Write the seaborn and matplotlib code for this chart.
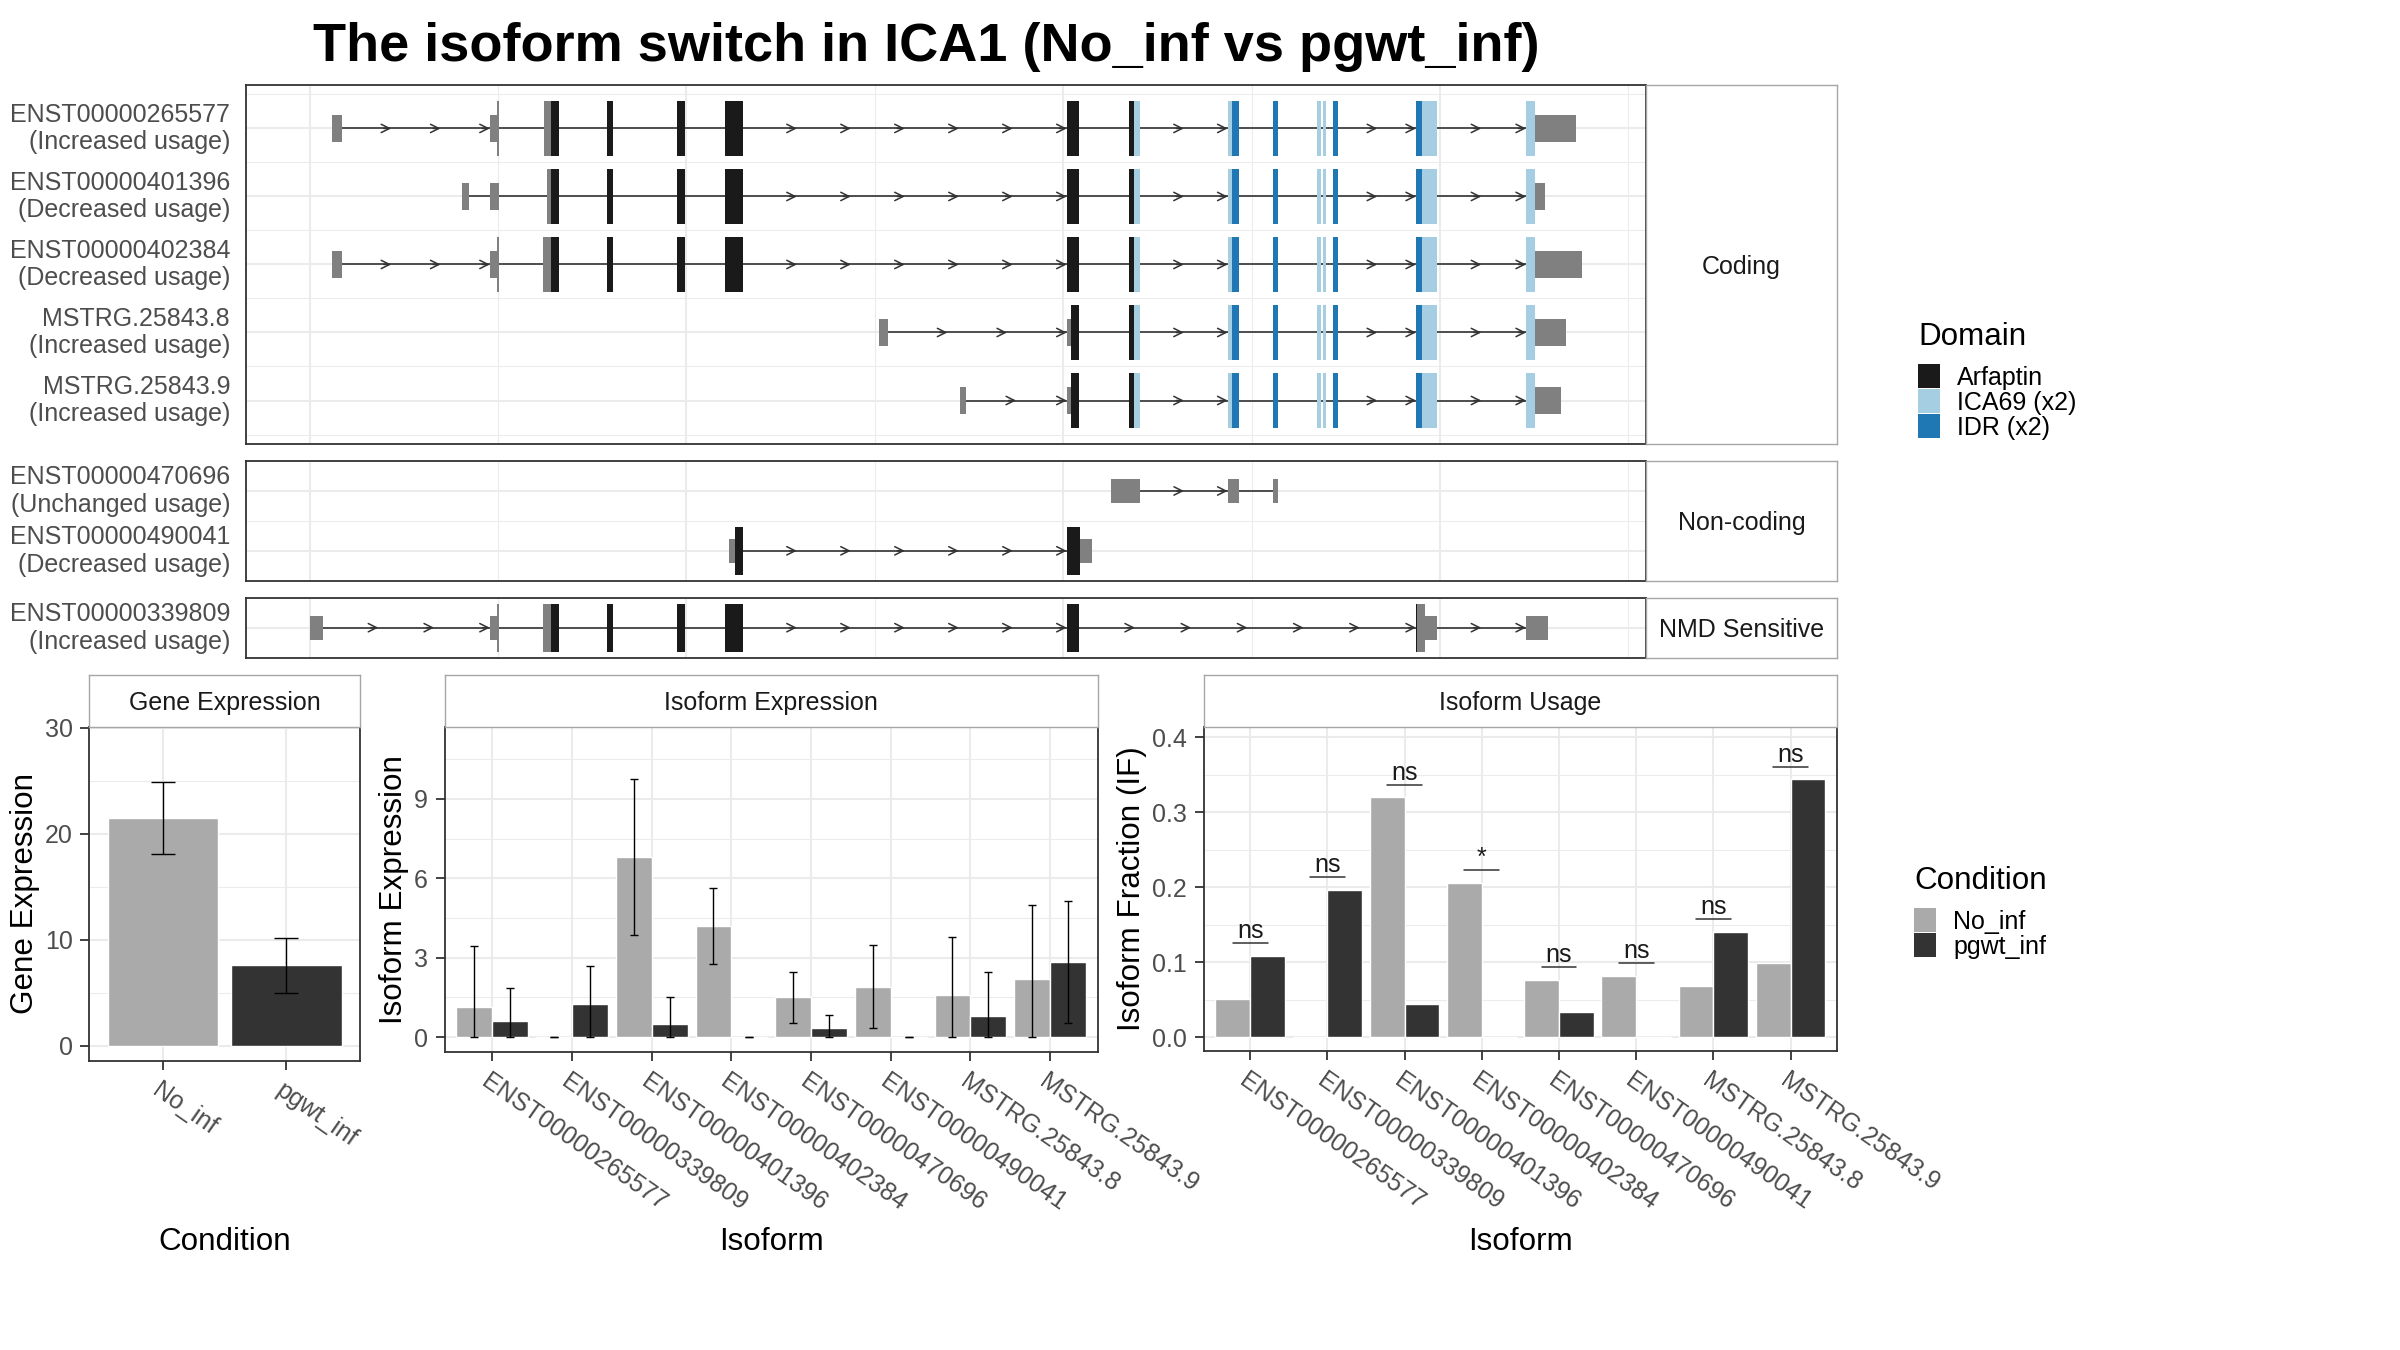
#################### IMPORTS ####################
import numpy as np
import pandas as pd
import matplotlib
matplotlib.use("Agg")
import matplotlib.pyplot as plt
import seaborn as sns
from matplotlib.patches import Rectangle
from matplotlib.transforms import ScaledTranslation

#################### DATA ####################
conditions = ["No_inf", "pgwt_inf"]
isoforms = ["ENST00000265577", "ENST00000339809", "ENST00000401396", "ENST00000402384",
            "ENST00000470696", "ENST00000490041", "MSTRG.25843.8", "MSTRG.25843.9"]

# gene expression: mean and error bar ends
gene_expr = [21.5, 7.6]
gene_low = [18.1, 5.0]
gene_high = [24.9, 10.2]

# isoform expression per condition
iso_expr_no = [1.15, 0.0, 6.8, 4.2, 1.5, 1.9, 1.6, 2.2]
iso_low_no = [0.0, 0.0, 3.85, 2.75, 0.55, 0.35, 0.0, 0.0]
iso_high_no = [3.45, 0.0, 9.75, 5.65, 2.45, 3.5, 3.8, 5.0]
iso_expr_pg = [0.6, 1.25, 0.5, 0.0, 0.35, 0.0, 0.8, 2.85]
iso_low_pg = [0.0, 0.0, 0.0, 0.0, 0.0, 0.0, 0.0, 0.55]
iso_high_pg = [1.85, 2.7, 1.5, 0.0, 0.85, 0.0, 2.45, 5.15]

# isoform usage (IF) and significance
if_no = [0.051, 0.0, 0.320, 0.206, 0.077, 0.082, 0.069, 0.099]
if_pg = [0.109, 0.197, 0.045, 0.0, 0.034, 0.0, 0.141, 0.344]
if_sig = ["ns", "ns", "ns", "*", "ns", "ns", "ns", "ns"]

# transcript structures: exons as lists of (start, end, feature), positions in kb (relative)
arf_core = [[(15.77, 16.09, "Arfaptin")], [(19.49, 19.91, "Arfaptin")], [(22.05, 23.00, "Arfaptin")]]
domain_tail = [
    [(43.47, 43.78, "Arfaptin"), (43.78, 44.08, "ICA69 (x2)")],
    [(48.73, 48.98, "ICA69 (x2)"), (48.98, 49.32, "IDR (x2)")],
    [(51.12, 51.42, "IDR (x2)")],
    [(53.50, 53.70, "ICA69 (x2)")],
    [(53.78, 53.97, "ICA69 (x2)")],
    [(54.33, 54.61, "IDR (x2)")],
    [(58.73, 59.04, "IDR (x2)"), (59.04, 59.82, "ICA69 (x2)")],
]
tx_265577 = ([[(1.18, 1.72, "utr")], [(9.57, 9.93, "utr"), (9.93, 10.07, "cds")],
              [(12.43, 12.80, "cds"), (12.80, 13.23, "Arfaptin")]] + arf_core
             + [[(40.19, 40.83, "Arfaptin")]] + domain_tail
             + [[(64.57, 65.06, "ICA69 (x2)"), (65.06, 67.22, "utr")]])
tx_401396 = ([[(8.08, 8.45, "utr")], [(9.57, 10.08, "utr")],
              [(12.59, 12.80, "cds"), (12.80, 13.23, "Arfaptin")]] + arf_core
             + [[(40.19, 40.83, "Arfaptin")]] + domain_tail
             + [[(64.57, 65.06, "ICA69 (x2)"), (65.06, 65.57, "utr")]])
tx_402384 = ([[(1.18, 1.72, "utr")], [(9.57, 9.93, "utr"), (9.93, 10.07, "cds")],
              [(12.38, 12.80, "cds"), (12.80, 13.23, "Arfaptin")]] + arf_core
             + [[(40.19, 40.83, "Arfaptin")]] + domain_tail
             + [[(64.57, 65.06, "ICA69 (x2)"), (65.06, 67.54, "utr")]])
tx_mstrg8 = ([[(30.22, 30.69, "utr")], [(40.19, 40.42, "utr"), (40.42, 40.83, "Arfaptin")]]
             + domain_tail + [[(64.57, 65.06, "ICA69 (x2)"), (65.06, 66.69, "utr")]])
tx_mstrg9 = ([[(34.55, 34.82, "utr")], [(40.19, 40.42, "utr"), (40.42, 40.83, "Arfaptin")]]
             + domain_tail + [[(64.57, 65.06, "ICA69 (x2)"), (65.06, 66.42, "utr")]])
tx_470696 = [[(42.52, 44.10, "utr")], [(48.73, 49.32, "utr")], [(51.12, 51.42, "utr")]]
tx_490041 = [[(22.25, 22.59, "utr"), (22.59, 23.00, "Arfaptin")],
             [(40.19, 40.89, "Arfaptin"), (40.89, 41.55, "utr")]]
tx_339809 = ([[(0.02, 0.69, "utr")], [(9.57, 9.93, "utr"), (9.93, 10.07, "cds")],
              [(12.38, 12.80, "cds"), (12.80, 13.23, "Arfaptin")]] + arf_core
             + [[(40.19, 40.83, "Arfaptin")],
                [(58.73, 58.80, "Arfaptin"), (58.80, 59.20, "cds"), (59.20, 59.82, "utr")],
                [(64.57, 65.72, "utr")]])

coding_names = ["ENST00000265577", "ENST00000401396", "ENST00000402384", "MSTRG.25843.8", "MSTRG.25843.9"]
coding_usage = ["Increased usage", "Decreased usage", "Decreased usage", "Increased usage", "Increased usage"]
coding_structs = [tx_265577, tx_401396, tx_402384, tx_mstrg8, tx_mstrg9]
noncoding_names = ["ENST00000470696", "ENST00000490041"]
noncoding_usage = ["Unchanged usage", "Decreased usage"]
noncoding_structs = [tx_470696, tx_490041]
nmd_names = ["ENST00000339809"]
nmd_usage = ["Increased usage"]
nmd_structs = [tx_339809]

domain_names = ["Arfaptin", "ICA69 (x2)", "IDR (x2)"]

#################### STYLE ####################
sns.set_theme(style="white")
plt.rcParams["font.family"] = ["Liberation Sans", "DejaVu Sans"]

GRID = "#EBEBEB"
FRAME = "#333333"
STRIP_EDGE = "#A6A6A6"
TICK_TXT = "#4D4D4D"
INTRON = "#333333"
cond_colors = {"No_inf": "#AAAAAA", "pgwt_inf": "#333333"}
feature_colors = {"utr": "#808080", "cds": "#808080", "Arfaptin": "#1A1A1A",
                  "ICA69 (x2)": "#A6CEE3", "IDR (x2)": "#1F78B4"}

W, H = 2400, 1350
fig = plt.figure(figsize=(W / 100, H / 100), dpi=100)


def px_box(left, top, right, bottom):
    return [left / W, 1 - bottom / H, (right - left) / W, (bottom - top) / H]


def add_strip(left, top, right, bottom, label):
    sax = fig.add_axes(px_box(left, top, right, bottom))
    sax.set_xticks([])
    sax.set_yticks([])
    sax.set_facecolor("white")
    for sp in sax.spines.values():
        sp.set_visible(True)
        sp.set_color(STRIP_EDGE)
        sp.set_linewidth(1.0)
    sax.text(0.5, 0.5, label, transform=sax.transAxes, ha="center", va="center_baseline",
             fontsize=18, color="#1A1A1A")
    return sax


def frame(ax):
    for sp in ax.spines.values():
        sp.set_visible(True)
        sp.set_color(FRAME)
        sp.set_linewidth(1.3)


def half_height(feat):
    return 0.2 if feat == "utr" else 0.4


def draw_structure(ax, exons, row):
    # introns with direction arrows
    for prev, nxt in zip(exons[:-1], exons[1:]):
        x0, x1 = prev[-1][1], nxt[0][0]
        ax.plot([x0, x1], [row, row], color=INTRON, lw=1.2, solid_capstyle="butt", zorder=2)
        span = x1 - x0
        if span > 3.8:
            n_arrows = int(np.ceil(span / 3.3))
            for k in range(1, n_arrows + 1):
                tip = x0 + span * k / n_arrows
                ax.annotate("", xy=(tip, row), xytext=(tip - 0.4, row), zorder=2,
                            arrowprops=dict(arrowstyle="->,head_length=0.3,head_width=0.15",
                                            color=INTRON, lw=1.1, shrinkA=0, shrinkB=0,
                                            mutation_scale=20))
    # exons, coloured by feature
    for exon in exons:
        for start, end, feat in exon:
            h = half_height(feat)
            ax.bar(start, 2 * h, width=end - start, bottom=row - h, align="edge",
                   color=feature_colors[feat], linewidth=0, zorder=3)


#################### TRANSCRIPT PANELS ####################
tx_panels = [("Coding", coding_names, coding_usage, coding_structs),
             ("Non-coding", noncoding_names, noncoding_usage, noncoding_structs),
             ("NMD Sensitive", nmd_names, nmd_usage, nmd_structs)]

all_segments = [seg for _, _, _, structs in tx_panels for st in structs for ex in st for seg in ex]
xmin = min(s[0] for s in all_segments)
xmax = max(s[1] for s in all_segments)
xpad = 0.05 * (xmax - xmin)

ylims = []
for _, names, _, structs in tx_panels:
    lo = min(r + 1 - half_height(f) for r, st in enumerate(structs) for ex in st for (_, _, f) in ex)
    hi = max(r + 1 + half_height(f) for r, st in enumerate(structs) for ex in st for (_, _, f) in ex)
    pad = 0.05 * (hi - lo)
    ylims.append((lo - pad, hi + pad))

TX_L, TX_R, STRIP_R = 246.3, 1645.6, 1837.3
TX_TOP, TX_BOT, GAP = 84.9, 657.6, 17.0
unit = (TX_BOT - TX_TOP - GAP * (len(tx_panels) - 1)) / sum(hi - lo for lo, hi in ylims)

top = TX_TOP
for (label, names, usage, structs), (lo, hi) in zip(tx_panels, ylims):
    bottom = top + (hi - lo) * unit
    ax = fig.add_axes(px_box(TX_L, top, TX_R, bottom))
    for r, st in enumerate(structs):
        draw_structure(ax, st, r + 1)
    ax.set_xlim(xmin - xpad, xmax + xpad)
    ax.set_ylim(hi, lo)
    ax.set_xticks([0, 20, 40, 60])
    ax.set_xticks([10, 30, 50, 70], minor=True)
    rows = np.arange(1, len(names) + 1)
    ax.set_yticks(rows, labels=[f"{n}\n({u})" for n, u in zip(names, usage)])
    ax.set_yticks(np.arange(0.5, len(names) + 1, 1.0), minor=True)
    ax.grid(True, which="major", color=GRID, lw=1.45)
    ax.grid(True, which="minor", color=GRID, lw=0.75)
    ax.set_axisbelow(True)
    ax.tick_params(axis="x", which="both", length=0, labelbottom=False)
    ax.tick_params(axis="y", which="both", length=0, pad=11.7, labelsize=18, labelcolor=TICK_TXT)
    plt.setp(ax.get_yticklabels(), linespacing=1.2, va="center", ha="right")
    frame(ax)
    add_strip(TX_R, top, STRIP_R, bottom, label)
    top = bottom + GAP

#################### BAR PANELS ####################
STRIP_TOP, PANEL_TOP = 674.6, 726.7
LABEL_BASE = 1250


def style_bars(ax, box, yticks, yminor, ylim, ncat, ylab, ylab_x, xlab, fmt=None):
    left, right, bottom = box
    ax.set_xlim(-0.6, ncat - 0.4)
    ax.set_ylim(*ylim)
    ax.set_yticks(yticks)
    if fmt:
        ax.set_yticklabels([fmt.format(t) for t in yticks])
    ax.set_yticks(yminor, minor=True)
    ax.grid(True, which="major", color=GRID, lw=1.45)
    ax.grid(True, axis="y", which="minor", color=GRID, lw=0.75)
    ax.set_axisbelow(True)
    frame(ax)
    ax.tick_params(which="major", bottom=True, left=True, length=6.7, width=1.3, color=FRAME,
                   labelsize=18, labelcolor=TICK_TXT)
    ax.tick_params(axis="y", which="major", pad=5.3)
    ax.tick_params(axis="x", which="major", pad=6.0)
    ax.tick_params(which="minor", length=0)
    for lab in ax.get_xticklabels():
        lab.set_rotation(-35)
        lab.set_ha("left")
        lab.set_va("top")
        lab.set_rotation_mode("anchor")
        lab.set_transform(lab.get_transform() + ScaledTranslation(-0.01, 0, fig.dpi_scale_trans))
    h = bottom - PANEL_TOP
    w = right - left
    ax.set_xlabel(xlab, fontsize=22.6, color="black", va="baseline")
    ax.xaxis.set_label_coords(0.5, (bottom - LABEL_BASE) / h)
    ax.set_ylabel(ylab, fontsize=22.6, color="black", va="baseline")
    ax.yaxis.set_label_coords((ylab_x - left) / w, 0.5)


# Gene expression
GE = (89.3, 360.0, 1060.8)
ax_ge = fig.add_axes(px_box(GE[0], PANEL_TOP, GE[1], GE[2]))
ge_df = pd.DataFrame({"Condition": conditions, "Gene Expression": gene_expr})
sns.barplot(data=ge_df, x="Condition", y="Gene Expression", hue="Condition", order=conditions,
            hue_order=conditions, palette=cond_colors, width=0.9, saturation=1, legend=False,
            errorbar=None, ax=ax_ge)
ax_ge.errorbar(np.arange(len(conditions)), gene_expr,
               yerr=[np.subtract(gene_expr, gene_low), np.subtract(gene_high, gene_expr)],
               fmt="none", ecolor="black", elinewidth=1.0, capsize=8.7, capthick=1.0, zorder=4)
style_bars(ax_ge, GE, [0, 10, 20, 30], [5, 15, 25], (-1.4, 30.1), len(conditions),
           "Gene Expression", 33.0, "Condition")
add_strip(GE[0], STRIP_TOP, GE[1], PANEL_TOP, "Gene Expression")

# Isoform expression
IE = (444.5, 1097.9, 1052.0)
ax_ie = fig.add_axes(px_box(IE[0], PANEL_TOP, IE[1], IE[2]))
ie_df = pd.DataFrame({"Isoform": isoforms * 2,
                      "Condition": [c for c in conditions for _ in isoforms],
                      "Expression": iso_expr_no + iso_expr_pg})
sns.barplot(data=ie_df, x="Isoform", y="Expression", hue="Condition", order=isoforms,
            hue_order=conditions, palette=cond_colors, width=0.9, saturation=1, legend=False,
            errorbar=None, ax=ax_ie)
for k, (vals, lows, highs) in enumerate([(iso_expr_no, iso_low_no, iso_high_no),
                                          (iso_expr_pg, iso_low_pg, iso_high_pg)]):
    xs = np.arange(len(isoforms)) + (k - 0.5) * 0.45
    ax_ie.errorbar(xs, vals, yerr=[np.subtract(vals, lows), np.subtract(highs, vals)],
                   fmt="none", ecolor="black", elinewidth=1.0, capsize=2.8, capthick=1.0, zorder=4)
style_bars(ax_ie, IE, [0, 3, 6, 9], [1.5, 4.5, 7.5, 10.5], (-0.56, 11.73), len(isoforms),
           "Isoform Expression", 402.0, "Isoform")
add_strip(IE[0], STRIP_TOP, IE[1], PANEL_TOP, "Isoform Expression")

# Isoform usage
IU = (1203.9, 1836.9, 1051.2)
ax_iu = fig.add_axes(px_box(IU[0], PANEL_TOP, IU[1], IU[2]))
iu_df = pd.DataFrame({"Isoform": isoforms * 2,
                      "Condition": [c for c in conditions for _ in isoforms],
                      "IF": if_no + if_pg})
sns.barplot(data=iu_df, x="Isoform", y="IF", hue="Condition", order=isoforms,
            hue_order=conditions, palette=cond_colors, width=0.9, saturation=1, legend=False,
            errorbar=None, ax=ax_iu)
for i, (a, b, sig) in enumerate(zip(if_no, if_pg, if_sig)):
    y = max(a, b) + 0.017
    ax_iu.plot([i - 0.225, i + 0.225], [y, y], color="#333333", lw=1.1, zorder=4)
    ax_iu.text(i, y + 0.0066, sig, ha="center", va="baseline", fontsize=18, color="#1A1A1A")
style_bars(ax_iu, IU, [0.0, 0.1, 0.2, 0.3, 0.4], [0.05, 0.15, 0.25, 0.35], (-0.0184, 0.4143),
           len(isoforms), "Isoform Fraction (IF)", 1140.0, "Isoform", fmt="{:.1f}")
add_strip(IU[0], STRIP_TOP, IU[1], PANEL_TOP, "Isoform Usage")

#################### TITLE AND LEGENDS ####################
ov = fig.add_axes([0, 0, 1, 1])
ov.set_xlim(0, W)
ov.set_ylim(H, 0)
ov.axis("off")

ov.text(926, 61, "The isoform switch in ICA1 (No_inf vs pgwt_inf)", ha="center", va="baseline",
        fontsize=39, fontweight="bold", color="black")


def draw_legend(x, title, title_base, key_top, labels, colors, key_w=22, key_h=23.5, step=25.0,
                text_dx=39):
    ov.text(x, title_base, title, ha="left", va="baseline", fontsize=22.6, color="black")
    for i, (lab, col) in enumerate(zip(labels, colors)):
        y0 = key_top + i * step
        ov.add_patch(Rectangle((x, y0), key_w, key_h, facecolor=col, edgecolor="none"))
        ov.text(x + text_dx, y0 + key_h / 2 + 9, lab, ha="left", va="baseline", fontsize=18,
                color="black")


draw_legend(1918, "Domain", 344.7, 364.0, domain_names, [feature_colors[d] for d in domain_names])
draw_legend(1914.3, "Condition", 888.6, 908.0, conditions, [cond_colors[c] for c in conditions])

fig.savefig("out.png", dpi=100)
